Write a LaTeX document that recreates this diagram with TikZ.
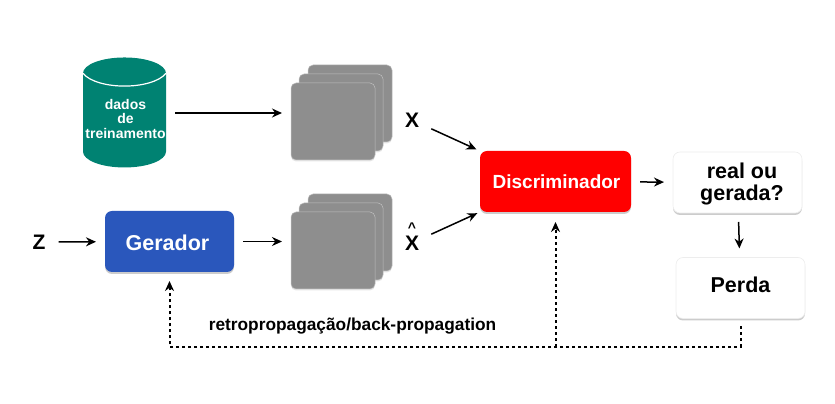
\documentclass[tikz,border=0pt]{standalone}
\usepackage{fontspec}
\usepackage{xcolor}
\setmainfont{Liberation Sans}
\usetikzlibrary{shapes.geometric, shadows, arrows.meta}
\definecolor{dadosgreen}{HTML}{008272}
\definecolor{geradorblue}{HTML}{2A57BC}
\definecolor{sheetgray}{HTML}{8E8E8E}
\tikzset{
	box/.style = {rectangle, rounded corners=7pt, minimum width=129pt, minimum height=61pt, inner sep=0pt, outer sep=0pt, drop shadow={shadow xshift=0pt, shadow yshift=-2pt, opacity=.4}},
	whitebox/.style = {box, fill=white, draw=black!7, line width=.6pt},
	sheet/.style = {rectangle, rounded corners=5pt, fill=sheetgray, draw=black!25, line width=.5pt, minimum width=84pt, minimum height=77pt, inner sep=0pt, outer sep=0pt, drop shadow={shadow xshift=0pt, shadow yshift=-1.5pt, opacity=.2}},
	boxtext/.style = {font=\fontsize{21.5}{22}\selectfont\bfseries, align=center, inner sep=0pt},
	link/.style = {->, line width=1.5pt, shorten >=9pt, shorten <=9pt},
	backlink/.style = {->, line width=2pt, dash pattern=on 3pt off 3pt, shorten >=9pt, shorten <=8pt}
}
\begin{document}
\begin{tikzpicture}[x=1pt, y=1pt, >={Stealth[length=10pt, width=9pt]}]
	\useasboundingbox (0,0) rectangle (835,404);
	
	\node[cylinder, shape border rotate=90, aspect=.6, fill=dadosgreen, minimum width=83pt, minimum height=110pt, inner sep=0pt, outer sep=0pt] (dados) at (124.5,283.5) {\phantom{treinamento}};
	\draw[white, line width=1.2pt] (dados.before top) .. controls +(14,-17) and +(-14,-17) .. (dados.after top);
	\node[align=center, font=\fontsize{14}{14.5}\selectfont\bfseries, text=white, inner sep=0pt] (dadostext) at (125.5,285) {dados\\de\\treinamento};
	\coordinate (dadosout) at (166,291);
	
	\node[sheet] (realback) at (350,300.5) {};
	\node[sheet] (realmid) at (341,291.5) {};
	\node[sheet] (realfront) at (333,282.5) {};
	
	\node[sheet] (fakeback) at (350,171.5) {};
	\node[sheet] (fakemid) at (341,162.5) {};
	\node[sheet] (fakefront) at (333,153.5) {};
	
	\node[box, fill=geradorblue] (gerador) at (169.5,162.5) {};
	\node[boxtext, text=white, xshift=-2pt, yshift=-1pt] (geradortext) at (gerador.center) {Gerador};
	
	\node[box, fill=red, minimum width=151pt] (disc) at (555.5,222.5) {};
	\node[boxtext, text=white, font=\fontsize{19}{20}\selectfont\bfseries, xshift=1pt] (disctext) at (disc.center) {Discriminador};
	
	\node[whitebox] (real) at (737.5,221.5) {};
	\node[boxtext] (realtext) at (742,220) {real ou\\gerada?};
	
	\node[whitebox] (perda) at (740.5,116) {};
	\node[boxtext, yshift=3pt] (perdatext) at (perda.center) {Perda};
	
	\node[font=\fontsize{21}{22}\selectfont\bfseries, inner sep=3pt] (x) at (412,284) {X};
	\node[font=\fontsize{21}{22}\selectfont\bfseries, inner sep=3pt] (xhat) at (412,161) {X};
	\node[font=\fontsize{14}{14}\selectfont\bfseries, inner sep=0pt] (hat) at (412,176.5) {\^{}};
	\node[font=\fontsize{21}{22}\selectfont\bfseries, inner sep=3pt] (z) at (39,162) {Z};
	\node[font=\fontsize{17.3}{18}\selectfont\bfseries, inner sep=0pt] (retro) at (352.5,78) {retropropagação/back-propagation};
	
	\coordinate (branch) at (555.5,57);
	
	\draw[link] (dadosout) -- (dadosout -| realfront.west);
	\draw[link, shorten <=10pt] (z) -- (gerador);
	\draw[link] (gerador) -- (gerador -| fakefront.west);
	\draw[link, shorten <=10pt, shorten >=4pt] (x) -- (disc.north west);
	\draw[link, shorten <=10pt, shorten >=3pt] (xhat) -- (disc.south west);
	\draw[link] (disc) -- (real);
	\draw[link] (real) -- (perda);
	
	\draw[backlink] (perda.south) |- (branch) -| (gerador.south);
	\draw[backlink, shorten <=0pt, shorten >=10pt] (branch) -- (disc.south);
\end{tikzpicture}
\end{document}
